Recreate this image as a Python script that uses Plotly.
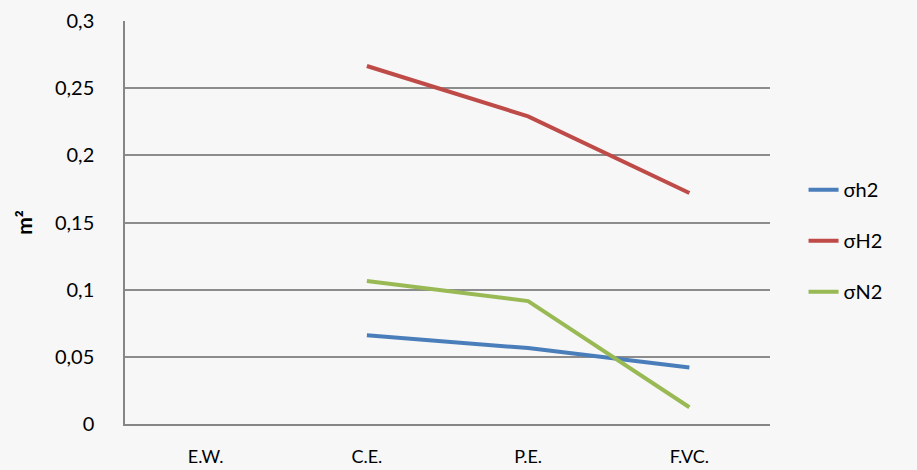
import plotly.graph_objects as go

categories = ["E.W.", "C.E.", "P.E.", "F.VC."]
sigma_h2 = [None, 0.066, 0.0565, 0.042]
sigma_H2 = [None, 0.2665, 0.229, 0.172]
sigma_N2 = [None, 0.1065, 0.0915, 0.0125]
y_ticks = [0, 0.05, 0.1, 0.15, 0.2, 0.25, 0.3]
y_labels = ["0", "0,05", "0,1", "0,15", "0,2", "0,25", "0,3"]

series = [
    ("σh2", sigma_h2, "#4a7ebb"),
    ("σH2", sigma_H2, "#be4b48"),
    ("σN2", sigma_N2, "#98b954"),
]

fig = go.Figure()
for name, vals, color in series:
    fig.add_trace(go.Scatter(
        x=categories, y=vals, name=name, mode="lines",
        line=dict(color=color, width=4), legendgroup=name,
    ))

font = "Lato, 'Open Sans', sans-serif"
fig.update_layout(
    width=917, height=470,
    margin=dict(l=125, r=147, t=21, b=46),
    paper_bgcolor="#f7f7f7", plot_bgcolor="#f7f7f7",
    font=dict(family=font, size=19, color="#000000"),
    showlegend=True,
    legend=dict(x=1.052, y=0.455, xanchor="left", yanchor="middle",
                tracegroupgap=22, font=dict(size=20),
                bgcolor="rgba(0,0,0,0)"),
    xaxis=dict(showgrid=False, showline=True, linecolor="#868686", linewidth=1.5,
               ticks="", tickfont=dict(size=18), range=[-0.5, 3.5],
               ticklabelstandoff=16, automargin=False),
    yaxis=dict(range=[0, 0.3], tickvals=y_ticks, ticktext=y_labels,
               tickfont=dict(size=20),
               showgrid=True, gridcolor="#8c8c8c", gridwidth=1.5,
               showline=True, linecolor="#868686", linewidth=1.5,
               zeroline=False, ticks="", ticklabelstandoff=25, automargin=False,
               title=dict(text="<b>m²</b>", standoff=17, font=dict(size=21))),
)

fig.write_html("out.html", config={"displayModeBar": False},
               post_script="document.body.style.margin='0';")
